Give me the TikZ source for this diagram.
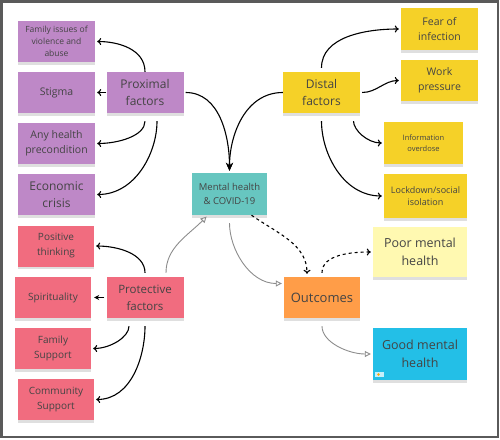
\documentclass[tikz,border=0pt]{standalone}
\usepackage{fontspec}
\setmainfont{Open Sans}
\usepackage{xcolor}
\usepackage{tikz}
\usetikzlibrary{arrows.meta,shadows}
\definecolor{ink}{HTML}{444444}
\definecolor{proxpurple}{HTML}{BE88C7}
\definecolor{distyellow}{HTML}{F5D128}
\definecolor{protpink}{HTML}{F16C7F}
\definecolor{covteal}{HTML}{67C6C0}
\definecolor{outorange}{HTML}{FF9D48}
\definecolor{poorcream}{HTML}{FFF9B1}
\definecolor{goodcyan}{HTML}{23BFE7}
\definecolor{linegray}{HTML}{8C8C8C}
\definecolor{framegray}{HTML}{5A5A5A}
\newcommand{\fsz}[2]{\fontsize{#1}{#2}\selectfont}

\begin{document}
\begin{tikzpicture}[x=1pt,y=-1pt,>={To[length=4pt,width=7pt]},
  sticky/.style={minimum width=77pt,minimum height=41pt,inner sep=1pt,align=center,text=ink,
    drop shadow={shadow xshift=0pt,shadow yshift=-2.5pt,opacity=0.25}},
  lead/.style={->,line width=1.1pt,shorten >=2pt},
  grey/.style={draw=linegray,line width=0.9pt,shorten >=2pt,-{Triangle[open,length=6pt,width=6pt]}}]
  \useasboundingbox (0,0) rectangle (500,439);
  \draw[framegray,line width=2.5pt] (1.25,1.25) rectangle (498,437);

  % proximal side
  \node[sticky,fill=proxpurple,font=\fsz{12}{17}] (prox) at (145,92.5) {Proximal\\factors};
  \node[sticky,fill=proxpurple,font=\fsz{8.5}{12}] (fam) at (56.5,41.5) {Family issues of\\violence and\\abuse};
  \node[sticky,fill=proxpurple,font=\fsz{10.5}{15}] (stig) at (56.5,92.5) {Stigma};
  \node[sticky,fill=proxpurple,font=\fsz{10.5}{15}] (prec) at (56.5,143.5) {Any health\\precondition};
  \node[sticky,fill=proxpurple,font=\fsz{12}{17}] (eco) at (56.5,194.5) {Economic\\crisis};

  % distal side
  \node[sticky,fill=distyellow,font=\fsz{10.5}{15},minimum height=42pt] (fear) at (439.5,29) {Fear of\\infection};
  \node[sticky,fill=distyellow,font=\fsz{12}{17}] (dist) at (321.5,92.5) {Distal\\factors};
  \node[sticky,fill=distyellow,font=\fsz{10.5}{15}] (work) at (439.5,80.5) {Work\\pressure};
  \node[sticky,fill=distyellow,font=\fsz{7.5}{11},minimum width=79pt,minimum height=42pt] (info) at (423.5,143) {Information\\overdose};
  \node[sticky,fill=distyellow,font=\fsz{9}{12},minimum width=83pt,minimum height=44pt] (lock) at (425.5,196) {Lockdown/social\\isolation};

  \node[sticky,fill=covteal,font=\fsz{9.5}{14},minimum width=75pt,minimum height=42pt] (mh) at (229.5,194) {Mental health\\\& COVID-19};

  % protective side
  \node[sticky,fill=protpink,font=\fsz{11.5}{17}] (prot) at (145,297.5) {Protective\\factors};
  \foreach \n/\x/\y/\t in {pos/56/246/Positive\\thinking,spir/53/297.5/Spirituality,
                           fsup/53/348.5/Family\\Support,comm/56/399.5/Community\\Support}
    \node[sticky,fill=protpink,font=\fsz{10}{15},minimum width=76pt] (\n) at (\x,\y) {\t};

  % outcomes
  \node[sticky,fill=outorange,font=\fsz{13}{18},minimum width=76pt] (out) at (322,297.5) {Outcomes};
  \node[sticky,fill=poorcream,font=\fsz{12.5}{18},minimum width=94pt,minimum height=50pt] (poor) at (420,252) {Poor mental\\health};
  \node[sticky,fill=goodcyan,font=\fsz{12.5}{18},minimum width=94pt,minimum height=52pt] (good) at (420,354) {Good mental\\health};
  \fill[white!75!goodcyan] (375,372) rectangle (384,377);
  \fill[orange!70!yellow] (378.5,374.5) circle (1.3);

  \draw[lead] (prox.north) to[out=90,in=0] (fam.east);
  \draw[lead] (prox.west) -- (stig.east);
  \draw[lead,shorten <=8pt] (prox.south) to[out=-90,in=0] (prec.east);
  \draw[lead,shorten <=8pt] ([xshift=12pt]prox.south) to[out=-90,in=0] (eco.east);
  \draw[line width=1.1pt,-{Stealth[length=8pt,width=7pt]},shorten <=2pt,shorten >=2pt] (prox.east) to[out=0,in=90] (mh.north);
  \draw[line width=1.1pt,-{Stealth[length=8pt,width=7pt]},shorten >=2pt] (dist.west) to[out=180,in=90] (mh.north);

  \draw[lead,shorten <=4pt] (dist.north) to[out=90,in=180] (fear.west);
  \draw[lead,shorten <=2pt] (dist.east) to[out=0,in=180] (work.west);
  \draw[lead,shorten <=8pt] ([xshift=32pt]dist.south) to[out=-90,in=180] (info.west);
  \draw[lead,shorten <=8pt] (dist.south) to[out=-90,in=180] (lock.west);

  \draw[lead,shorten <=4pt] (prot.north) to[out=90,in=0] (pos.east);
  \draw[line width=1.1pt,-{Stealth[length=5pt,width=5pt]},shorten <=2pt,shorten >=3pt] (prot.west) -- (spir.east);
  \draw[lead,shorten <=8pt] ([xshift=-16pt]prot.south) to[out=-90,in=0] (fsup.east);
  \draw[lead,shorten <=8pt] (prot.south) to[out=-90,in=0] (comm.east);

  \draw[grey,shorten <=4pt] ([xshift=21pt]prot.north) to[out=90,in=225] ([xshift=-21.5pt]mh.south);
  \draw[grey,shorten <=8pt] (mh.south) to[out=-90,in=180] ([yshift=14pt]out.west);
  \draw[lead,dashed,shorten >=3pt] ([xshift=22pt]mh.south) to[out=-35,in=90] ([xshift=-15pt]out.north);
  \draw[lead,dashed,shorten <=4pt] (out.north) to[out=90,in=180] (poor.west);
  \draw[grey,shorten <=8pt] (out.south) to[out=-90,in=180] (good.west);
\end{tikzpicture}
\end{document}
